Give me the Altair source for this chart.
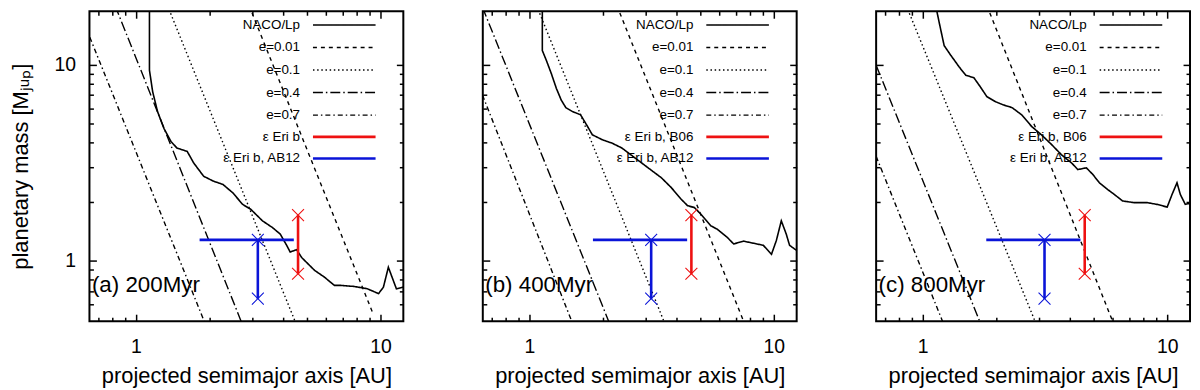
import altair as alt
import pandas as pd

FONT = "Liberation Sans"
W, H = 316, 312
X_DOMAIN = [0.645, 12.4]
Y_DOMAIN = [0.493, 18.7]

# ---------------- data ----------------
panel_tags = ["(a) 200Myr", "(b) 400Myr", "(c) 800Myr"]
red_labels = ["\u03b5 Eri b", "\u03b5 Eri b, B06", "\u03b5 Eri b, B06"]
blue_label = "\u03b5 Eri b, AB12"
base_labels = ["NACO/Lp", "e=0.01", "e=0.1", "e=0.4", "e=0.7"]

# NACO/Lp detection limit curves
naco_a_x = [1.135, 1.135, 1.17, 1.225, 1.30, 1.39, 1.47, 1.62, 1.72, 1.89, 2.07, 2.27, 2.49, 2.73,
            2.95, 3.29, 3.61, 3.89, 4.14, 4.27, 4.54, 4.76, 5.38, 5.90, 6.48, 6.89, 7.79, 8.81, 9.82,
            10.28, 10.77, 11.28, 11.62, 12.4]
naco_a_y = [20, 9.37, 7.27, 5.76, 4.74, 4.06, 3.76, 3.61, 3.16, 2.70, 2.55, 2.45, 2.22, 1.94,
            1.83, 1.60, 1.48, 1.37, 1.195, 1.11, 1.14, 1.04, 0.894, 0.826, 0.75, 0.75, 0.741, 0.722, 0.681,
            0.735, 0.928, 0.795, 0.72, 0.735]
naco_b_x = [1.13, 1.13, 1.174, 1.23, 1.29, 1.35, 1.41, 1.50, 1.62, 1.73, 1.81, 1.99, 2.18, 2.39, 2.71,
            3.06, 3.47, 3.81, 4.18, 4.44, 4.73, 5.03, 5.52, 5.87, 6.44, 6.85, 7.52, 8.26, 9.06, 9.78,
            10.24, 10.73, 11.24, 11.6, 12.4]
naco_b_y = [20, 11.8, 10.5, 9.0, 7.56, 6.6, 6.04, 5.77, 5.55, 4.84, 4.39, 4.14, 3.98, 3.76, 3.34,
            2.98, 2.65, 2.36, 2.06, 1.91, 1.87, 1.73, 1.51, 1.45, 1.32, 1.22, 1.26, 1.23, 1.20, 1.08,
            1.27, 1.60, 1.37, 1.20, 1.13]
naco_c_x = [1.13, 1.168, 1.224, 1.30, 1.41, 1.50, 1.62, 1.72, 1.83, 1.98, 2.14, 2.32, 2.54, 2.79,
            3.06, 3.37, 3.69, 4.06, 4.31, 4.67, 4.96, 5.28, 5.71, 6.08, 6.57, 7.32, 8.28, 9.10, 10.0,
            10.47, 10.97, 11.32, 11.86, 12.5]
naco_c_y = [20, 16.4, 12.5, 11.2, 9.73, 8.83, 8.57, 7.71, 6.87, 6.48, 6.23, 6.04, 5.55, 4.84,
            4.39, 3.91, 3.48, 3.16, 2.92, 2.98, 2.76, 2.50, 2.31, 2.18, 2.02, 1.98, 1.98, 1.94, 1.88,
            2.18, 2.50, 2.18, 1.94, 1.97]

# eccentricity lines (straight in log-log): end points
e001_a_x = [2.90, 9.37];  e001_a_y = [20, 0.53]
e01_a_x = [1.345, 4.47];  e01_a_y = [20, 0.493]
e04_a_x = [0.821, 2.69];  e04_a_y = [20, 0.493]
e07_a_x = [0.647, 1.90];  e07_a_y = [13.8, 0.493]

e001_b_x = [2.28, 7.52];  e001_b_y = [20, 0.493]
e01_b_x = [1.07, 3.55];   e01_b_y = [20, 0.493]
e04_b_x = [0.643, 2.11];  e04_b_y = [19.6, 0.493]
e07_b_x = [0.643, 1.49];  e07_b_y = [7.0, 0.493]

e001_c_x = [1.83, 5.98];  e001_c_y = [20, 0.493]
e01_c_x = [0.856, 2.88];  e01_c_y = [20, 0.493]
e04_c_x = [0.645, 1.71];  e04_c_y = [9.93, 0.493]
e07_c_x = [0.645, 1.205]; e07_c_y = [3.41, 0.493]

# epsilon Eri b
b06_x = [4.6, 4.6];        b06_y = [0.86, 1.71]
ab12_sep_x = [1.82, 4.42]; ab12_sep_y = [1.28, 1.28]
ab12_m_x = [3.15, 3.15];   ab12_m_y = [1.28, 0.642]

tag_x = [0.66]
tag_y = [0.75]

naco_x = [naco_a_x, naco_b_x, naco_c_x]
naco_y = [naco_a_y, naco_b_y, naco_c_y]
elines = [
    [(e001_a_x, e001_a_y), (e01_a_x, e01_a_y), (e04_a_x, e04_a_y), (e07_a_x, e07_a_y)],
    [(e001_b_x, e001_b_y), (e01_b_x, e01_b_y), (e04_b_x, e04_b_y), (e07_b_x, e07_b_y)],
    [(e001_c_x, e001_c_y), (e01_c_x, e01_c_y), (e04_c_x, e04_c_y), (e07_c_x, e07_c_y)],
]

# ---------------- styles ----------------
RED = "#ee1111"
BLUE = "#0a14d8"
series_colors = ["black", "black", "black", "black", "black", RED, BLUE]
series_dashes = [[1, 0], [4, 4], [1.5, 2.7], [10, 3, 1.5, 3], [5, 3, 1.5, 3], [1, 0], [1, 0]]
series_widths = [1.6, 1.4, 1.4, 1.4, 1.4, 2.6, 2.6]
XPATH = "M-1,-1L1,1M1,-1L-1,1"
# legend sample: a line drawn to the right of the (right-aligned) label
LEG_PATH = "M3.64,0H15.1"

MAJOR = [1, 10]
MINOR_X = [0.7, 0.8, 0.9, 2, 3, 4, 5, 6, 7, 8, 9]
MINOR_Y = [0.6, 0.7, 0.8, 0.9, 2, 3, 4, 5, 6, 7, 8, 9]

xs = alt.Scale(type="log", domain=X_DOMAIN, nice=False)
ys = alt.Scale(type="log", domain=Y_DOMAIN, nice=False)


def tick_axis(orient, values, size):
    return alt.Axis(orient=orient, values=values, labels=False, domain=False, grid=False,
                    ticks=True, tickSize=size, tickWidth=1.5, tickColor="black",
                    offset=-size, title=None)


def panel(k):
    names = base_labels + [red_labels[k], blue_label]
    rows = []

    def add(series, seg, xv, yv):
        for i, (a, b) in enumerate(zip(xv, yv)):
            rows.append(dict(series=series, seg=seg, x=a, y=b, i=i))

    add(names[0], "naco", naco_x[k], naco_y[k])
    for j, (ex, ey) in enumerate(elines[k]):
        add(names[1 + j], "e%d" % j, ex, ey)
    add(names[5], "b06", b06_x, b06_y)
    add(names[6], "ab12s", ab12_sep_x, ab12_sep_y)
    add(names[6], "ab12m", ab12_m_x, ab12_m_y)
    df = pd.DataFrame(rows)

    leg = alt.Legend(title=None, orient="none", legendX=198, legendY=7, padding=0,
                     symbolType=LEG_PATH, symbolSize=121, symbolOffset=0,
                     labelAlign="right", labelOffset=0, labelFont=FONT, labelFontSize=13.5,
                     labelColor="black", labelLimit=0, rowPadding=7.7)

    label_x_axis = alt.Axis(orient="bottom", values=MAJOR, format="d", ticks=False, tickSize=0,
                            domain=False, grid=False, labelFont=FONT, labelFontSize=19.5,
                            labelColor="black", labelPadding=17, title="projected semimajor axis [AU]",
                            titleFont=FONT, titleFontSize=22, titleFontWeight="normal",
                            titleColor="black", titlePadding=9)
    if k == 0:
        label_y_axis = alt.Axis(orient="left", values=MAJOR, format="d", ticks=False, tickSize=0,
                                domain=False, grid=False, labelFont=FONT, labelFontSize=19.5,
                                labelColor="black", labelPadding=14,
                                title="planetary mass [M\u2c7c\u1d64\u209a]",
                                titleFont=FONT, titleFontSize=22, titleFontWeight="normal",
                                titleColor="black", titlePadding=22)
    else:
        label_y_axis = None

    lines = alt.Chart(df).mark_line(clip=True, strokeCap="butt").encode(
        x=alt.X("x:Q", scale=xs, axis=label_x_axis),
        y=alt.Y("y:Q", scale=ys, axis=label_y_axis),
        color=alt.Color("series:N", scale=alt.Scale(domain=names, range=series_colors), legend=leg),
        strokeDash=alt.StrokeDash("series:N", scale=alt.Scale(domain=names, range=series_dashes), legend=leg),
        strokeWidth=alt.StrokeWidth("series:O", sort=names,
                                    scale=alt.Scale(type="ordinal", domain=names, range=series_widths),
                                    legend=leg),
        detail="seg:N",
        order="i:Q",
    )

    red_df = pd.DataFrame({"x": b06_x, "y": b06_y})
    blue_df = pd.DataFrame({"x": ab12_m_x, "y": ab12_m_y})
    tag_df = pd.DataFrame({"x": tag_x, "y": tag_y, "tag": [panel_tags[k]]})

    red_pts = alt.Chart(red_df).mark_point(shape=XPATH, size=144, filled=False, strokeWidth=1.1,
                                           color=RED, opacity=1, clip=True).encode(
        x=alt.X("x:Q", scale=xs, axis=tick_axis("bottom", MAJOR, 7)),
        y=alt.Y("y:Q", scale=ys, axis=tick_axis("left", MAJOR, 7)),
    )
    blue_pts = alt.Chart(blue_df).mark_point(shape=XPATH, size=144, filled=False, strokeWidth=1.1,
                                             color=BLUE, opacity=1, clip=True).encode(
        x=alt.X("x:Q", scale=xs, axis=tick_axis("bottom", MINOR_X, 4)),
        y=alt.Y("y:Q", scale=ys, axis=tick_axis("left", MINOR_Y, 4)),
    )
    tag = alt.Chart(tag_df).mark_text(align="left", baseline="middle", font=FONT, fontSize=22.5,
                                      color="black").encode(
        x=alt.X("x:Q", scale=xs, axis=tick_axis("top", MAJOR, 7)),
        y=alt.Y("y:Q", scale=ys, axis=tick_axis("right", MAJOR, 7)),
        text="tag:N",
    )
    ghost = alt.Chart(tag_df).mark_point(opacity=0).encode(
        x=alt.X("x:Q", scale=xs, axis=tick_axis("top", MINOR_X, 4)),
        y=alt.Y("y:Q", scale=ys, axis=tick_axis("right", MINOR_Y, 4)),
    )
    return alt.layer(lines, red_pts, blue_pts, tag, ghost).resolve_scale(
        x="independent", y="independent").resolve_axis(
        x="independent", y="independent").properties(width=W, height=H)


chart = alt.hconcat(panel(0), panel(1), panel(2), spacing=76, padding=0).resolve_scale(
    x="independent", y="independent", color="independent",
    strokeDash="independent", strokeWidth="independent").resolve_legend(
    color="independent", strokeDash="independent", strokeWidth="independent").configure(
    font=FONT).configure_view(stroke="black", strokeWidth=2).configure_axis(
    labelColor="black", titleColor="black", tickColor="black")

chart.save("out.html", embed_options={"renderer": "svg", "actions": False})
